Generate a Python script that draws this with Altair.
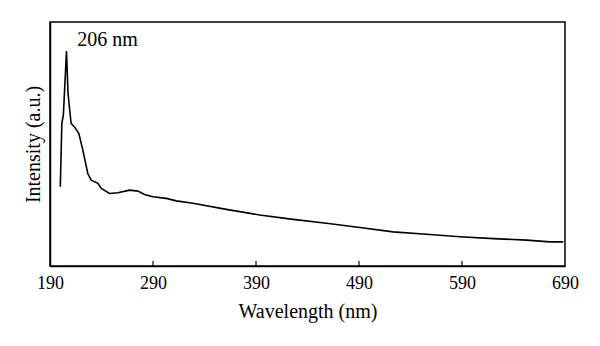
import altair as alt
import pandas as pd

wavelength = [200, 201.5, 203, 206, 207.5, 210.5, 213.8, 218, 221.9, 226.7, 230, 236.5,
              239.8, 247.8, 255.9, 267.3, 275.3, 281.8, 289.9, 302.9, 312.6, 328.8, 361.2,
              393.6, 426, 458.4, 490.8, 523.1, 555.6, 588, 620.3, 652.8, 675.4, 688.3]
intensity = [0.325, 0.584, 0.62, 0.881, 0.708, 0.584, 0.570, 0.543, 0.475, 0.379, 0.352, 0.339,
             0.318, 0.297, 0.300, 0.311, 0.307, 0.293, 0.284, 0.277, 0.267, 0.257, 0.232,
             0.209, 0.191, 0.175, 0.158, 0.140, 0.130, 0.120, 0.112, 0.106, 0.099, 0.099]
x_ticks = [190, 290, 390, 490, 590, 690]
ann_x = [216.5]
ann_y = [0.925]
ann_text = ["206 nm"]

df = pd.DataFrame({"wl": wavelength, "I": intensity})
ann = pd.DataFrame({"wl": ann_x, "I": ann_y, "t": ann_text})
ticks_df = pd.DataFrame({"wl": x_ticks[1:-1]})

FONT = "Liberation Serif"
xscale = alt.Scale(domain=[190, 690], nice=False, zero=False)
yscale = alt.Scale(domain=[0, 1], nice=False, zero=False)

line = alt.Chart(df).mark_line(color="black", strokeWidth=1.6).encode(
    x=alt.X("wl:Q", scale=xscale,
            axis=alt.Axis(values=x_ticks, ticks=False, domain=True, domainColor="black",
                          domainWidth=1.5, labelFont=FONT, labelFontSize=18, labelColor="black",
                          labelPadding=8, grid=False, title="Wavelength (nm)", titleFont=FONT,
                          titleFontSize=20, titleFontWeight="normal", titleColor="black",
                          titlePadding=9, labelFlush=False)),
    y=alt.Y("I:Q", scale=yscale,
            axis=alt.Axis(labels=False, ticks=False, grid=False, domain=True, domainColor="black",
                          domainWidth=1.5, title="Intensity (a.u.)", titleFont=FONT,
                          titleFontSize=20, titleFontWeight="normal", titleColor="black",
                          titlePadding=7)),
)

tick_rules = alt.Chart(ticks_df).mark_rule(color="black", strokeWidth=1.2).encode(
    x=alt.X("wl:Q", scale=xscale),
    y=alt.datum(0, scale=yscale),
    y2=alt.datum(0.02),
)

text = alt.Chart(ann).mark_text(align="left", baseline="middle", font=FONT, fontSize=20,
                                color="black").encode(
    x=alt.X("wl:Q", scale=xscale), y=alt.Y("I:Q", scale=yscale), text="t:N")

chart = alt.layer(line, tick_rules, text).properties(
    width=515, height=244,
    autosize=alt.AutoSizeParams(type="none"),
    padding={"left": 50, "top": 22, "right": 35, "bottom": 80},
).configure_view(stroke="black", strokeWidth=1.5)

chart.save("out.html", embed_options={"renderer": "svg", "actions": False})
